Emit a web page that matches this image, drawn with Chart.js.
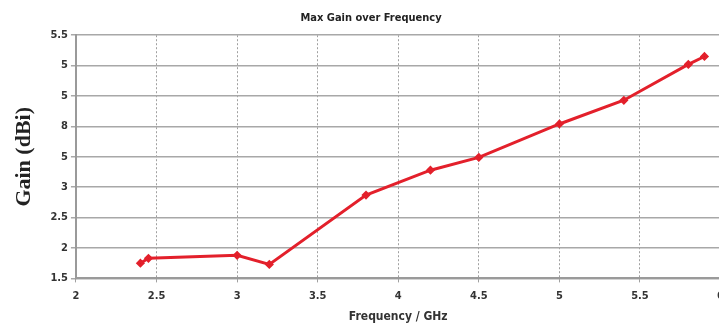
<!DOCTYPE html>
<html>
<head>
<meta charset="utf-8">
<script src="https://cdn.jsdelivr.net/npm/chart.js@4/dist/chart.umd.min.js"></script>
<style>
  html, body { margin: 0; padding: 0; background: #fff; overflow: hidden; }
  #wrap { width: 731px; height: 331px; }
</style>
</head>
<body>
<div id="wrap"><canvas id="chart"></canvas></div>
<script>
const freqs = [2.4, 2.45, 3.0, 3.2, 3.8, 4.2, 4.5, 5.0, 5.4, 5.8, 5.9];
const gains = [1.75, 1.83, 1.88, 1.73, 2.87, 3.28, 3.49, 4.04, 4.43, 5.02, 5.15];
const yTickValues = [1.5, 2, 2.5, 3, 3.5, 4, 4.5, 5, 5.5];
const yTickLabels = ['1.5', '2', '2.5', '3', '5', '8', '5', '5', '5.5'];
const xTickLabels = ['2', '2.5', '3', '3.5', '4', '4.5', '5', '5.5', '6'];

const tickFont = { family: 'DejaVu Sans Condensed', size: 11, weight: 'bold' };

const data = {
    datasets: [{
        label: 'Max Gain',
        data: freqs.map((f, i) => ({ x: f, y: gains[i] })),
        borderColor: '#e3202b',
        backgroundColor: '#c8141e',
        borderWidth: 3,
        pointRadius: 2.5,
        pointStyle: 'rectRot',
        tension: 0
    }]
};

const config = {
    type: 'line',
    data: data,
    options: {
        responsive: true,
        maintainAspectRatio: false,
        animation: false,
        layout: { padding: { left: 11, right: 0, top: 8, bottom: 7 } },
        scales: {
            x: {
                type: 'linear',
                min: 2,
                max: 6,
                grid: {
                    color: '#a0a0a0',
                    lineWidth: 1,
                    tickLength: 4
                },
                // in v4 the dash of the grid lines lives under border
                border: { color: '#9a9a9a', width: 2, dash: [2, 2] },
                afterBuildTicks: axis => {
                    axis.ticks = xTickLabels.map(v => ({ value: parseFloat(v) }));
                },
                ticks: {
                    color: '#333',
                    font: tickFont,
                    padding: 7,
                    maxRotation: 0,
                    callback: (v, i) => xTickLabels[i]
                },
                title: {
                    display: true,
                    text: 'Frequency / GHz',
                    color: '#333',
                    font: { family: 'DejaVu Sans Condensed', size: 12, weight: 'bold' },
                    padding: { top: 0, bottom: 0 }
                }
            },
            y: {
                min: 1.5,
                max: 5.5,
                grid: {
                    color: '#a8a8a8',
                    lineWidth: 1.5,
                    tickLength: 5
                },
                border: { color: '#9a9a9a', width: 2 },
                afterBuildTicks: axis => {
                    axis.ticks = yTickValues.map(v => ({ value: v }));
                },
                ticks: {
                    color: '#333',
                    font: tickFont,
                    padding: 3,
                    callback: (v, i) => yTickLabels[i]
                },
                title: {
                    display: true,
                    text: 'Gain (dBi)',
                    color: '#222',
                    font: { family: 'Liberation Serif', size: 22, weight: 'bold' },
                    padding: { top: 0, bottom: 10 }
                }
            }
        },
        plugins: {
            legend: { display: false },
            tooltip: { enabled: false },
            title: {
                display: true,
                text: 'Max Gain over Frequency',
                color: '#222',
                font: { family: 'DejaVu Sans Condensed', size: 11, weight: 'bold' },
                padding: { top: 4, bottom: 10 }
            }
        }
    }
};

new Chart(document.getElementById('chart'), config);
</script>
</body>
</html>
